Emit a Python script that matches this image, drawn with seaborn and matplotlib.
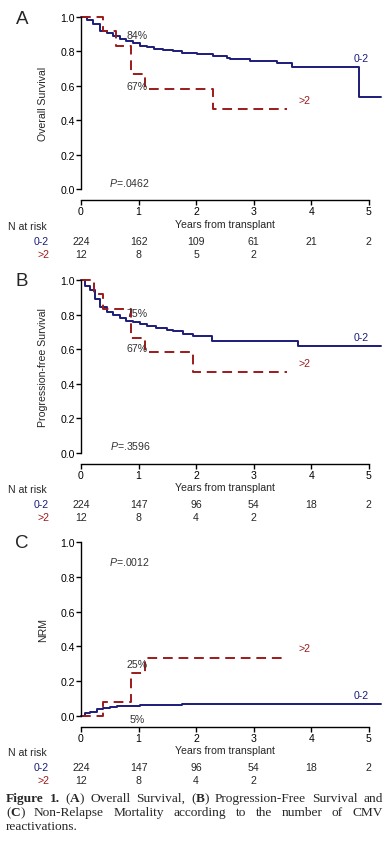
import matplotlib
matplotlib.use("Agg")
import matplotlib.pyplot as plt
import matplotlib.transforms as mtransforms
import pandas as pd
import seaborn as sns

# ---- data ---------------------------------------------------------------
years = [0, 1, 2, 3, 4, 5]

os_low_t = [0, 0.10, 0.21, 0.33, 0.45, 0.56, 0.68, 0.79, 0.91, 1.02, 1.14, 1.26,
            1.43, 1.60, 1.75, 2.01, 2.30, 2.53, 2.59, 2.93, 3.40, 3.66, 4.83, 5.21]
os_low_s = [1.0, 0.985, 0.96, 0.917, 0.905, 0.888, 0.873, 0.863, 0.85, 0.834, 0.823,
            0.815, 0.809, 0.80, 0.79, 0.784, 0.776, 0.761, 0.755, 0.746, 0.732, 0.707,
            0.532, 0.532]
os_high_t = [0, 0.39, 0.61, 0.86, 1.11, 2.30, 3.57]
os_high_s = [1.0, 0.917, 0.834, 0.667, 0.583, 0.467, 0.467]

pfs_low_t = [0, 0.07, 0.16, 0.24, 0.33, 0.45, 0.56, 0.68, 0.79, 0.91, 1.02, 1.14,
             1.31, 1.49, 1.60, 1.78, 1.95, 2.27, 3.77, 5.21]
pfs_low_s = [1.0, 0.967, 0.944, 0.89, 0.842, 0.817, 0.798, 0.778, 0.765, 0.759, 0.745,
             0.736, 0.721, 0.711, 0.705, 0.688, 0.678, 0.647, 0.618, 0.618]
pfs_high_t = [0, 0.23, 0.38, 0.86, 1.11, 1.94, 3.57]
pfs_high_s = [1.0, 0.917, 0.834, 0.667, 0.583, 0.467, 0.467]

nrm_low_t = [0, 0.07, 0.16, 0.27, 0.39, 0.50, 0.62, 1.02, 1.75, 5.21]
nrm_low_s = [0.0, 0.015, 0.023, 0.04, 0.046, 0.052, 0.058, 0.062, 0.067, 0.067]
nrm_high_t = [0, 0.39, 0.87, 1.11, 3.57]
nrm_high_s = [0.0, 0.083, 0.25, 0.333, 0.333]

risk_os_low = ["224", "162", "109", "61", "21", "2"]
risk_os_high = ["12", "8", "5", "2"]
risk_pfs_low = ["224", "147", "96", "54", "18", "2"]
risk_pfs_high = ["12", "8", "4", "2"]
risk_nrm_low = ["224", "147", "96", "54", "18", "2"]
risk_nrm_high = ["12", "8", "4", "2"]

groups = ["0-2", ">2"]

NAVY = "#1c1c7a"
RED = "#9b1b1b"
GREY = "#333333"
W, H = 387, 845
FS = 7.6

sns.set_theme(style="ticks")
plt.rcParams["font.family"] = ["Liberation Sans", "DejaVu Sans"]
plt.rcParams["font.size"] = FS
plt.rcParams["mathtext.fontset"] = "custom"
plt.rcParams["mathtext.rm"] = "Liberation Sans"
plt.rcParams["mathtext.it"] = "Liberation Sans:italic"


def fx(px):
    return px / W


def fy(py):
    return 1 - py / H


def km_frame(t, s, group):
    return pd.DataFrame({"t": t, "s": s, "group": group})


def draw_panel(fig, top, bottom, letter, ylabel, low, high, risk_low, risk_high,
               pval, notes, rows_y):
    ax = fig.add_axes([fx(81), fy(bottom), fx(381) - fx(81), fy(top) - fy(bottom)])
    df = pd.concat([km_frame(low[0], low[1], groups[0]),
                    km_frame(high[0], high[1], groups[1])], ignore_index=True)
    for g, color, ls in [(groups[0], NAVY, "-"), (groups[1], RED, (0, (5, 3)))]:
        sns.lineplot(data=df[df["group"] == g], x="t", y="s", ax=ax,
                     drawstyle="steps-post", estimator=None, sort=False,
                     color=color, linewidth=1.4, linestyle=ls, clip_on=False)
    ax.set_xlim(0, 5.21)
    ax.set_ylim(0, 1)
    ax.set_xticks(years)
    ax.set_yticks([0, 0.2, 0.4, 0.6, 0.8, 1.0])
    ax.set_yticklabels(["0.0", "0.2", "0.4", "0.6", "0.8", "1.0"])
    ax.set_xlabel("")
    ax.set_ylabel("")
    sns.despine(ax=ax)
    ax.spines["bottom"].set_position(("outward", 8))
    ax.spines["bottom"].set_bounds(0, 5)
    for sp in ("left", "bottom"):
        ax.spines[sp].set_linewidth(1.0)
        ax.spines[sp].set_color("black")
    ax.tick_params(axis="both", direction="out", length=3.5, width=1.0,
                   labelsize=FS, pad=0.8, colors="black")

    fig.text(fx(22), fy(top + 1), letter, fontsize=13.5, ha="center", va="center")
    fig.text(fx(43), fy((top + bottom) / 2), ylabel, rotation=90, fontsize=FS,
             ha="center", va="center")

    for txt, x, y, color in notes:
        ax.text(x, y, txt, color=color, fontsize=FS, ha="center", va="center")
    ax.text(pval[0], pval[1], r"$\it{P}$" + pval[2], fontsize=FS, ha="center",
            va="center", color=GREY)

    tr = mtransforms.blended_transform_factory(ax.transData, fig.transFigure)
    xl_y, nr_y, r1_y, r2_y = rows_y
    ax.text(2.5, fy(xl_y), "Years from transplant", transform=tr, ha="center",
            va="center", fontsize=FS)
    fig.text(fx(8), fy(nr_y), "N at risk", ha="left", va="center", fontsize=FS)
    fig.text(fx(49), fy(r1_y), groups[0], ha="right", va="center", fontsize=FS,
             color=NAVY)
    fig.text(fx(49), fy(r2_y), groups[1], ha="right", va="center", fontsize=FS,
             color=RED)
    for yr, n in zip(years, risk_low):
        ax.text(yr, fy(r1_y), n, transform=tr, ha="center", va="center", fontsize=FS)
    for yr, n in zip(years, risk_high):
        ax.text(yr, fy(r2_y), n, transform=tr, ha="center", va="center", fontsize=FS)
    return ax


def justified_caption(fig, lines, top, left, right, step, size):
    renderer = fig.canvas.get_renderer()
    for i, (words, justify) in enumerate(lines):
        y = fy(top + i * step)
        widths = []
        for word in words:
            ww = 0
            for seg, bold in word:
                t = fig.text(0, 0, seg, fontsize=size, family="Liberation Serif",
                             fontweight="bold" if bold else "normal")
                ww += t.get_window_extent(renderer).width
                t.remove()
            widths.append(ww)
        space = 3.0
        if justify and len(words) > 1:
            space = (right - left - sum(widths)) / (len(words) - 1)
        x = left
        for word, ww in zip(words, widths):
            for seg, bold in word:
                t = fig.text(fx(x), y, seg, fontsize=size, family="Liberation Serif",
                             fontweight="bold" if bold else "normal",
                             ha="left", va="center")
                x += t.get_window_extent(renderer).width
            x += space


def plain(text):
    return [[(w, False)] for w in text.split()]


def main():
    fig = plt.figure(figsize=(W / 100, H / 100), dpi=100)

    draw_panel(fig, 18, 190, "A", "Overall Survival",
               (os_low_t, os_low_s), (os_high_t, os_high_s),
               risk_os_low, risk_os_high, (0.85, 0.04, "=.0462"),
               [("84%", 0.98, 0.896, GREY), ("67%", 0.98, 0.60, GREY),
                ("0-2", 4.87, 0.76, NAVY), (">2", 3.89, 0.52, RED)],
               (225, 227, 242, 255))
    draw_panel(fig, 281, 454, "B", "Progression-free Survival",
               (pfs_low_t, pfs_low_s), (pfs_high_t, pfs_high_s),
               risk_pfs_low, risk_pfs_high, (0.85, 0.048, "=.3596"),
               [("75%", 0.98, 0.807, GREY), ("67%", 0.98, 0.605, GREY),
                ("0-2", 4.87, 0.672, NAVY), (">2", 3.89, 0.52, RED)],
               (488, 490, 505, 518))
    draw_panel(fig, 543, 717, "C", "NRM",
               (nrm_low_t, nrm_low_s), (nrm_high_t, nrm_high_s),
               risk_nrm_low, risk_nrm_high, (0.85, 0.89, "=.0012"),
               [("25%", 0.98, 0.30, GREY), ("5%", 0.98, -0.018, GREY),
                ("0-2", 4.87, 0.12, NAVY), (">2", 3.89, 0.39, RED)],
               (751, 753, 768, 781))

    line1 = ([[("Figure", True)], [("1.", True)],
              [("(", False), ("A", True), (")", False)]]
             + plain("Overall Survival,")
             + [[("(", False), ("B", True), (")", False)]]
             + plain("Progression-Free Survival and"))
    line2 = ([[("(", False), ("C", True), (")", False)]]
             + plain("Non-Relapse Mortality according to the number of CMV"))
    line3 = plain("reactivations.")
    justified_caption(fig, [(line1, True), (line2, True), (line3, False)],
                      799, 6, 383, 14, 9.6)

    fig.savefig("out.png", dpi=100)
    plt.close(fig)


if __name__ == "__main__":
    main()
